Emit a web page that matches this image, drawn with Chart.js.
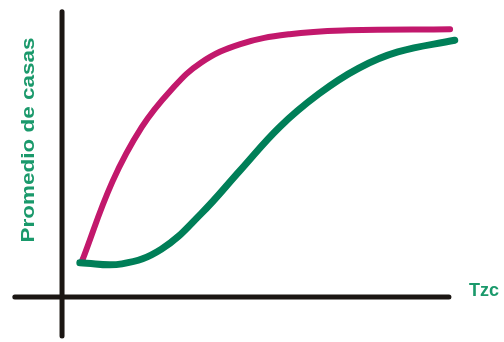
<!DOCTYPE html>
<html>
<head>
<meta charset="utf-8">
<script src="https://cdn.jsdelivr.net/npm/chart.js@4.4.1/dist/chart.umd.min.js"></script>
<style>
  html, body { margin: 0; padding: 0; background: #fff; }
  #wrap { width: 504px; height: 342px; }
</style>
</head>
<body>
<div id="wrap"><canvas id="chart" width="504" height="342"></canvas></div>
<script>
// Tzc (0-100) against the average for each curve
const tzcMagenta = [5.3, 13.0, 20.6, 28.2, 35.9, 46.1, 58.8, 74.0, 100.3];
const casasMagenta = [13.6, 42.1, 62.1, 75.7, 85.7, 92.5, 96.1, 97.5, 97.9];

const tzcVerde = [4.6, 15.5, 25.7, 35.9, 46.1, 56.2, 66.4, 76.6, 86.8, 101.5];
const casasVerde = [12.5, 12.1, 17.5, 30.4, 46.4, 62.1, 74.3, 83.6, 89.6, 93.9];

const xTitle = 'Tzc';
const yTitle = 'Promedio de casas';

// axis extents in data units
const xAxisFrom = -12.2, xAxisTo = 100;
const yAxisFrom = -14.3, yAxisTo = 104.3;

const toPoints = (xs, ys) => xs.map((x, i) => ({ x: x, y: ys[i] }));

const axesPlugin = {
  id: 'handAxes',
  beforeDatasetsDraw(chart) {
    const { ctx, scales: { x, y } } = chart;
    ctx.save();
    ctx.strokeStyle = '#1b1613';
    ctx.lineWidth = 5;
    ctx.lineCap = 'round';
    ctx.beginPath();
    ctx.moveTo(x.getPixelForValue(0), y.getPixelForValue(yAxisTo));
    ctx.lineTo(x.getPixelForValue(0), y.getPixelForValue(yAxisFrom));
    ctx.moveTo(x.getPixelForValue(xAxisFrom), y.getPixelForValue(0));
    ctx.lineTo(x.getPixelForValue(xAxisTo), y.getPixelForValue(0));
    ctx.stroke();

    ctx.fillStyle = '#1a996b';
    ctx.font = 'bold 18px "Liberation Sans", Arial, sans-serif';
    ctx.textBaseline = 'middle';
    ctx.textAlign = 'left';
    ctx.fillText(xTitle, 469, y.getPixelForValue(0) - 6);

    // rotated title, stretched along its length
    ctx.translate(29.5, 140);
    ctx.rotate(-Math.PI / 2);
    ctx.font = 'bold 18px "Liberation Sans", Arial, sans-serif';
    const w = ctx.measureText(yTitle).width;
    ctx.scale(205 / w, 1);
    ctx.textAlign = 'center';
    ctx.fillText(yTitle, 0, 0);
    ctx.restore();
  }
};

new Chart(document.getElementById('chart'), {
  type: 'scatter',
  data: {
    datasets: [
      {
        data: toPoints(tzcVerde, casasVerde),
        showLine: true,
        borderColor: '#007f58',
        borderWidth: 7,
        borderCapStyle: 'round',
        tension: 0.4,
        pointRadius: 0
      },
      {
        data: toPoints(tzcMagenta, casasMagenta),
        showLine: true,
        borderColor: '#c2186c',
        borderWidth: 6,
        borderCapStyle: 'round',
        tension: 0.4,
        pointRadius: 0
      },
      {
        data: toPoints([tzcMagenta[0]], [casasMagenta[0]]),
        pointRadius: 3,
        pointBackgroundColor: '#1fb2d6',
        pointBorderWidth: 0
      }
    ]
  },
  options: {
    responsive: false,
    animation: false,
    layout: { padding: 0 },
    plugins: { legend: { display: false }, tooltip: { enabled: false } },
    scales: {
      x: { type: 'linear', min: -15, max: 113.2, display: false },
      y: { type: 'linear', min: -15, max: 107.14, display: false }
    }
  },
  plugins: [axesPlugin]
});
</script>
</body>
</html>
